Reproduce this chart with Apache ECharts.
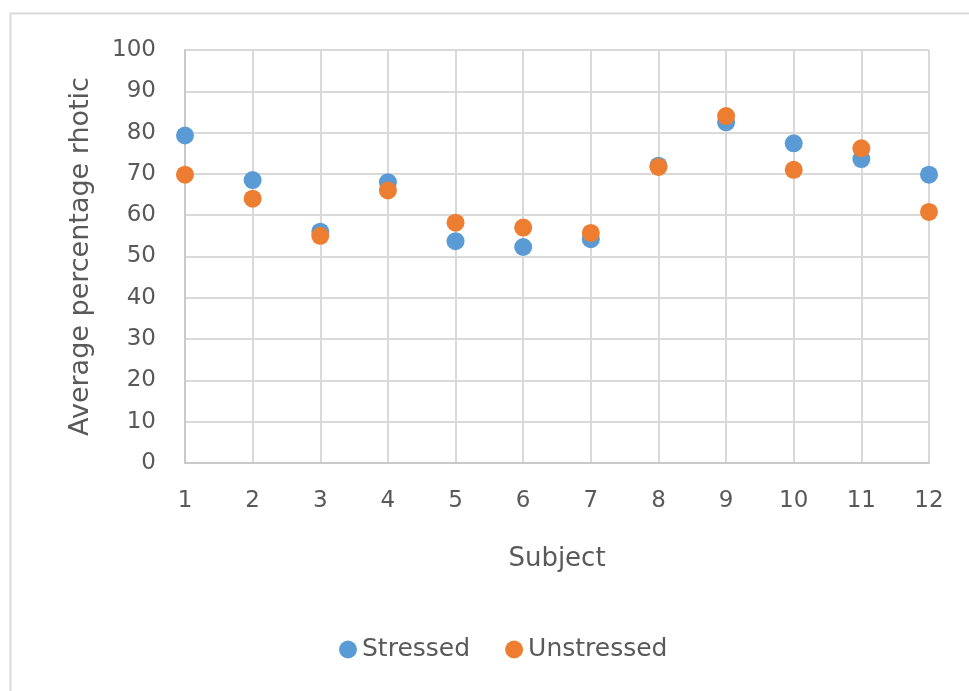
<!DOCTYPE html>
<html>
<head>
<meta charset="utf-8">
<script src="https://cdn.jsdelivr.net/npm/echarts@6/dist/echarts.min.js"></script>
<style>
  html, body { margin: 0; padding: 0; background: #fff; }
  #chart { width: 969px; height: 691px; }
</style>
</head>
<body>
<div id="chart"></div>
<script>
// Subjects along the x axis
const subjects = [1, 2, 3, 4, 5, 6, 7, 8, 9, 10, 11, 12];
// Average percentage rhotic per subject
const stressed   = [79.3, 68.5, 56, 68, 53.7, 52.3, 54.2, 72, 82.5, 77.4, 73.6, 69.8];
const unstressed = [69.8, 64, 55, 66, 58.2, 57, 55.7, 71.7, 84, 71, 76.2, 60.8];
const yTicks = [0, 10, 20, 30, 40, 50, 60, 70, 80, 90, 100];

const FONT = '"DejaVu Sans", sans-serif';
const TEXT = '#595959';

const chart = echarts.init(document.getElementById('chart'), null, { renderer: 'canvas' });

const pairs = (vals) => subjects.map((s, i) => [s, vals[i]]);

chart.setOption({
  animation: false,
  backgroundColor: '#ffffff',
  graphic: [{
    type: 'rect',
    shape: { x: 10.5, y: 13.5, width: 1000, height: 1000 },
    style: { fill: 'none', stroke: '#d9d9d9', lineWidth: 2 },
    silent: true
  }],
  grid: { left: 185, right: 40, top: 50, bottom: 228 },
  xAxis: {
    type: 'value',
    min: 1, max: 12, interval: 1,
    name: 'Subject',
    nameLocation: 'middle',
    nameGap: 83,
    nameTextStyle: { fontFamily: FONT, fontSize: 26, color: TEXT },
    axisLine: { show: true, onZero: false, lineStyle: { color: '#c9c9c9', width: 2 } },
    axisTick: { show: false },
    axisLabel: { fontFamily: FONT, fontSize: 23, color: TEXT, margin: 27 },
    splitLine: { show: true, lineStyle: { color: '#d9d9d9', width: 2 } }
  },
  yAxis: {
    type: 'value',
    min: yTicks[0], max: yTicks[yTicks.length - 1], interval: 10,
    name: 'Average percentage rhotic',
    nameLocation: 'middle',
    nameGap: 91,
    nameTextStyle: { fontFamily: FONT, fontSize: 27, color: TEXT },
    axisLine: { show: true, lineStyle: { color: '#c9c9c9', width: 2 } },
    axisTick: { show: false },
    axisLabel: { fontFamily: FONT, fontSize: 23, color: TEXT, margin: 29 },
    splitLine: { show: true, lineStyle: { color: '#d9d9d9', width: 2 } }
  },
  legend: {
    bottom: 24,
    left: 334,
    icon: 'circle',
    itemWidth: 18,
    itemHeight: 18,
    itemGap: 35,
    textStyle: { fontFamily: FONT, fontSize: 25, color: TEXT },
    data: ['Stressed', 'Unstressed']
  },
  series: [
    {
      name: 'Stressed',
      type: 'scatter',
      symbolSize: 18,
      itemStyle: { color: '#5b9bd5', opacity: 1 },
      data: pairs(stressed)
    },
    {
      name: 'Unstressed',
      type: 'scatter',
      symbolSize: 18,
      itemStyle: { color: '#ed7d31', opacity: 1 },
      data: pairs(unstressed)
    }
  ]
});
</script>
</body>
</html>
